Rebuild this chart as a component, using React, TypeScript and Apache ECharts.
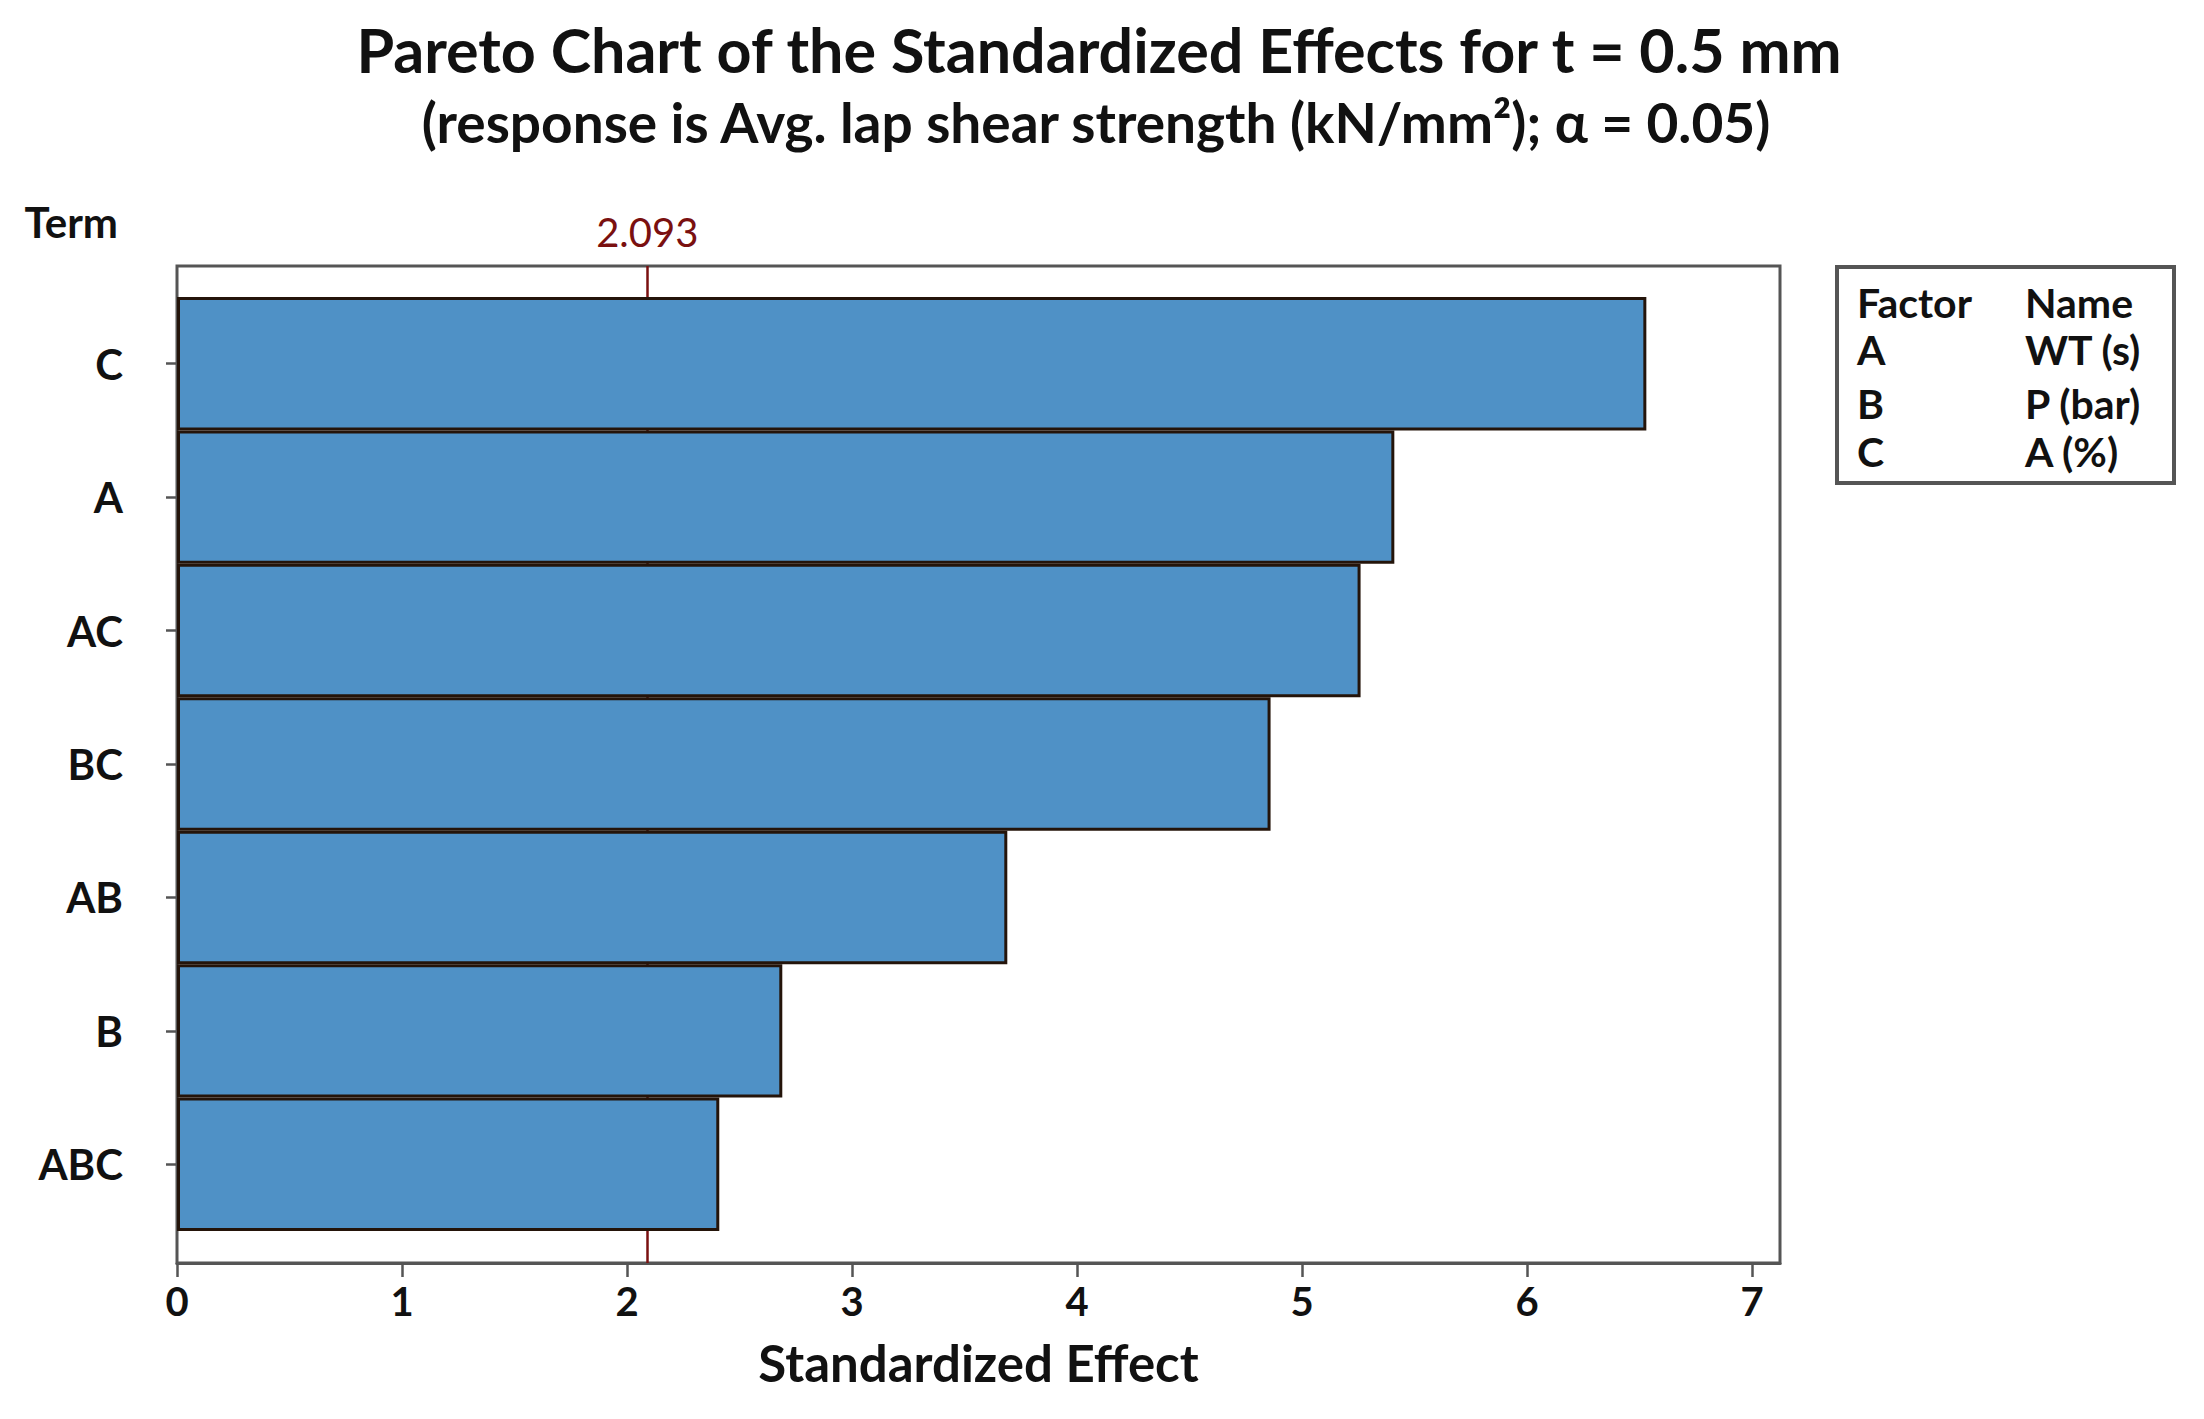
import React, { useEffect, useRef } from "react";
import * as echarts from "echarts";

const terms = ["C", "A", "AC", "BC", "AB", "B", "ABC"];
const effects = [6.53, 5.41, 5.26, 4.86, 3.69, 2.69, 2.41];
const xTickValues = [0, 1, 2, 3, 4, 5, 6, 7];
const refValue = 2.093;
const refLabel = "2.093";
const factorCodes = ["A", "B", "C"];
const factorNames = ["WT (s)", "P (bar)", "A (%)"];

const titleText = "Pareto Chart of the Standardized Effects for t = 0.5 mm";
const subtitleText = "(response is Avg. lap shear strength (kN/mm²); α = 0.05)";

const FONT = "Lato, 'Open Sans', sans-serif";
const W = 2204;
const H = 1419;
const X_MAX = 7.124;

export default function App() {
  const ref = useRef<HTMLDivElement>(null);

  useEffect(() => {
    document.body.style.margin = "0";
    if (!ref.current) return;
    const chart = echarts.init(ref.current, null, { renderer: "svg" });

    const frame = { left: 177, right: W - 1780, top: 266, bottom: H - 1263 };
    const inner = { left: 177, right: W - 1780, top: 297, bottom: H - 1231 };

    const legendX = 1837;
    const legendY = 267;
    const legendW = 2174 - 1837;
    const legendH = 483 - 267;
    const rowYs = [349, 403, 451];
    const legendFont = `bold 41px ${FONT}`;

    const legendChildren: any[] = [
      {
        type: "rect",
        shape: { x: legendX, y: legendY, width: legendW, height: legendH },
        style: { fill: "#fff", stroke: "#555", lineWidth: 4 },
      },
      {
        type: "text",
        x: 1857,
        y: 302,
        style: { text: "Factor", font: legendFont, fill: "#111", textVerticalAlign: "middle" },
      },
      {
        type: "text",
        x: 2025,
        y: 302,
        style: { text: "Name", font: legendFont, fill: "#111", textVerticalAlign: "middle" },
      },
    ];
    factorCodes.forEach((c, i) => {
      legendChildren.push({
        type: "text",
        x: 1857,
        y: rowYs[i],
        style: { text: c, font: legendFont, fill: "#111", textVerticalAlign: "middle" },
      });
      legendChildren.push({
        type: "text",
        x: 2025,
        y: rowYs[i],
        style: { text: factorNames[i], font: legendFont, fill: "#111", textVerticalAlign: "middle" },
      });
    });

    chart.setOption({
      animation: false,
      backgroundColor: "#fff",
      title: [
        {
          text: titleText,
          left: 1094,
          textAlign: "center",
          top: 14,
          textStyle: { fontFamily: FONT, fontWeight: "bold", fontSize: 61, color: "#111" },
        },
        {
          text: subtitleText,
          left: 1091,
          textAlign: "center",
          top: 89,
          textStyle: { fontFamily: FONT, fontWeight: "bold", fontSize: 55, color: "#111" },
        },
      ],
      grid: [
        { ...frame, show: true, borderColor: "#555", borderWidth: 3, backgroundColor: "transparent", containLabel: false },
        { ...inner, show: false, containLabel: false },
      ],
      xAxis: [
        {
          type: "value",
          gridIndex: 0,
          min: 0,
          max: X_MAX,
          interval: 1,
          name: "Standardized Effect",
          nameLocation: "middle",
          nameGap: 74,
          nameTextStyle: { fontFamily: FONT, fontWeight: "bold", fontSize: 51, color: "#111" },
          axisLine: { show: true, lineStyle: { color: "#555", width: 3 } },
          axisTick: { show: true, length: 14, customValues: xTickValues, lineStyle: { color: "#555", width: 2.5 } },
          axisLabel: {
            show: true,
            customValues: xTickValues,
            margin: 18,
            fontFamily: FONT,
            fontWeight: "bold",
            fontSize: 40,
            color: "#111",
          },
          splitLine: { show: false },
        },
        {
          type: "value",
          gridIndex: 1,
          min: 0,
          max: X_MAX,
          show: false,
          splitLine: { show: false },
        },
      ],
      yAxis: [
        {
          type: "value",
          gridIndex: 0,
          min: 0,
          max: 1,
          show: false,
          splitLine: { show: false },
        },
        {
          type: "category",
          gridIndex: 1,
          data: terms,
          inverse: true,
          name: "Term",
          nameLocation: "start",
          nameGap: 54,
          nameTextStyle: {
            fontFamily: FONT,
            fontWeight: "bold",
            fontSize: 42,
            color: "#111",
            align: "right",
            padding: [0, 59, 0, 0],
          },
          axisLine: { show: false },
          axisTick: { show: true, alignWithLabel: true, length: 11, lineStyle: { color: "#555", width: 2.5 } },
          axisLabel: { margin: 54, fontFamily: FONT, fontWeight: "bold", fontSize: 42, color: "#111" },
          splitLine: { show: false },
        },
      ],
      series: [
        {
          type: "line",
          xAxisIndex: 0,
          yAxisIndex: 0,
          data: [],
          silent: true,
          markLine: {
            z: 1,
            silent: true,
            symbol: "none",
            lineStyle: { color: "#7a1010", width: 2.5, type: "solid" },
            label: {
              show: true,
              position: "end",
              formatter: refLabel,
              distance: 14,
              fontFamily: FONT,
              fontSize: 40,
              color: "#7a1010",
            },
            data: [{ xAxis: refValue }],
          },
        },
        {
          type: "bar",
          xAxisIndex: 1,
          yAxisIndex: 1,
          data: effects,
          z: 3,
          barCategoryGap: "0%",
          itemStyle: { color: "#4F91C6", borderColor: "#24140a", borderWidth: 3 },
          silent: true,
        },
      ],
      graphic: [{ type: "group", children: legendChildren }],
    });

    return () => chart.dispose();
  }, []);

  return <div ref={ref} style={{ width: W, height: H }} />;
}
